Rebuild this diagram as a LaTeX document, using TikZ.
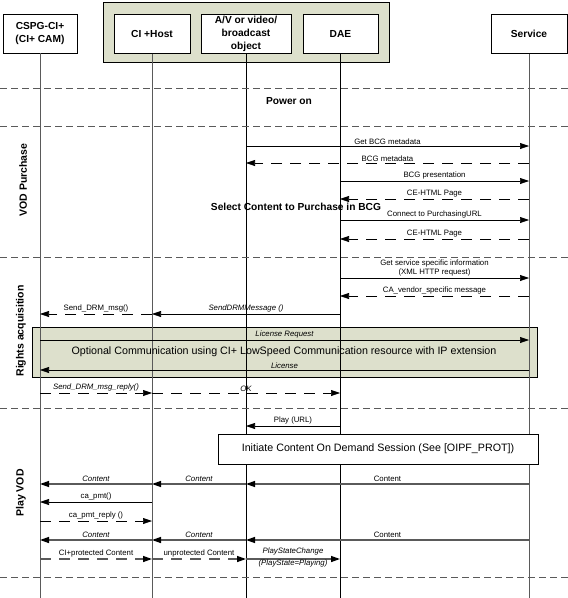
\documentclass[tikz,border=0pt]{standalone}
\usepackage{fontspec}
\setmainfont{Liberation Sans}
\usetikzlibrary{arrows.meta}
\definecolor{olivebg}{RGB}{221,224,204}
\definecolor{lifegray}{RGB}{90,90,90}
\tikzset{
  hdr/.style={draw=black, fill=white, minimum height=39pt, inner sep=0pt, align=center, font=\fontsize{10.2}{12.8}\selectfont\bfseries},
  life/.style={draw=lifegray, line width=0.6pt},
  sep/.style={draw=lifegray, line width=0.6pt, dash pattern=on 7pt off 4pt},
  tip/.style={-{Triangle[length=9pt,width=6pt,color=black,fill=black]}},
  msg/.style={tip, draw=black, line width=0.6pt},
  dmsg/.style={tip, draw=black, line width=0.6pt, dash pattern=on 11pt off 8pt},
  stream/.style={tip, draw=lifegray, line width=1.3pt},
  dstream/.style={tip, draw=lifegray, line width=1.3pt, dash pattern=on 11pt off 8pt},
  lbl/.style={font=\fontsize{7.8}{9.5}\selectfont, inner sep=0.5pt, align=center},
  ilbl/.style={font=\fontsize{7.8}{9.5}\selectfont\itshape, inner sep=0.5pt, align=center},
  big/.style={font=\fontsize{10.7}{12}\selectfont, inner sep=1pt},
  bigb/.style={font=\fontsize{10.2}{12}\selectfont\bfseries, inner sep=1pt},
  phase/.style={font=\fontsize{10.5}{12}\selectfont\bfseries, rotate=90, inner sep=1pt},
}
\begin{document}
\begin{tikzpicture}[x=1pt,y=-1pt]
\useasboundingbox (0,0) rectangle (568,598);
% group box
\node[draw=black, fill=olivebg, minimum width=286pt, minimum height=60pt, inner sep=0pt] (grp) at (246,32) {};
% headers
\node[hdr, minimum width=74pt] (cspg) at (40,33.5) {CSPG-CI+\\(CI+ CAM)};
\node[hdr, minimum width=76pt] (host) at (152,34) {CI +Host};
\node[hdr, minimum width=90pt] (av) at (246,34) {A/V or video/\\broadcast\\object};
\node[hdr, minimum width=75pt] (dae) at (340.5,34) {DAE};
\node[hdr, minimum width=76pt] (svc) at (529,34) {Service};
% lifeline ends
\coordinate (cspgE) at (40,598);
\coordinate (hostE) at (152,598);
\coordinate (avE) at (246,598);
\coordinate (daeE) at (340,598);
\coordinate (svcE) at (529,598);
% optional comm box (under lifelines)
\node[draw=black, fill=olivebg, minimum width=505pt, minimum height=50pt, inner sep=0pt] (opt) at (284.5,352) {};
% lifelines
\draw[life] (cspg.south -| cspgE) -- (cspgE);
\draw[life] (grp.south -| hostE) -- (hostE);
\draw[life] (host.south -| hostE) -- (grp.south -| hostE);
\draw[life, draw=black] (av.south -| avE) -- (avE);
\draw[life, draw=black] (dae.south -| daeE) -- (daeE);
\draw[life] (svc.south -| svcE) -- (svcE);
% separators
\coordinate (L) at (0,0); \coordinate (R) at (568,0);
\foreach \yy in {88,126,257,408,577} \draw[sep] (L |- 0,\yy) -- (R |- 0,\yy);
\node[bigb] (pwr) at (289,101) {Power on};
% VOD purchase
\draw[msg] (avE |- 0,146) -- node[lbl, above=1pt] (m1) {Get BCG metadata} (svcE |- 0,146);
\draw[dmsg] (svcE |- 0,163) -- node[lbl, above=1pt] (m2) {BCG metadata} (avE |- 0,163);
\draw[msg] (daeE |- 0,181) -- node[lbl, above=1pt] (m3) {BCG presentation} (svcE |- 0,181);
\draw[dmsg] (svcE |- 0,199) -- node[lbl, above=1pt] (m4) {CE-HTML Page} (daeE |- 0,199);
\node[bigb] (sel) at (296,207) {Select Content to Purchase in BCG};
\draw[msg] (daeE |- 0,220) -- node[lbl, above=1pt] (m5) {Connect to PurchasingURL} (svcE |- 0,220);
\draw[dmsg] (svcE |- 0,239) -- node[lbl, above=1pt] (m6) {CE-HTML Page} (daeE |- 0,239);
\node[phase] (ph1) at (23,180) {VOD Purchase};
% Rights acquisition
\draw[msg] (daeE |- 0,278) -- node[lbl, above=1pt] (m7) {Get service specific information\\(XML HTTP request)} (svcE |- 0,278);
\draw[dmsg] (svcE |- 0,296) -- node[lbl, above=1pt] (m8) {CA\_vendor\_specific message} (daeE |- 0,296);
\draw[msg] (daeE |- 0,314) -- node[ilbl, above=1pt] (m9) {SendDRMMessage ()} (hostE |- 0,314);
\draw[dmsg] (hostE |- 0,314) -- node[lbl, above=1pt] (m10) {Send\_DRM\_msg()} (cspgE |- 0,314);
\node[big] (opttxt) at (284,352) {Optional Communication using CI+ LowSpeed Communication resource with IP extension};
\draw[msg] (cspgE |- 0,340) -- node[ilbl, above=1pt] (m11) {License Request} (svcE |- 0,340);
\draw[msg] (svcE |- 0,370) -- node[ilbl, above=1pt] (m12) {License} (cspgE |- 0,370);
\draw[dmsg] (cspgE |- 0,393) -- node[ilbl, above=1pt] (m13) {Send\_DRM\_msg\_reply()} (hostE |- 0,393);
\draw[dmsg] (hostE |- 0,393) -- node[ilbl, above=1pt] (m14) {OK} (daeE |- 0,393);
\node[phase] (ph2) at (21,331) {Rights acquisition};
% Play VOD
\draw[msg] (daeE |- 0,426) -- node[lbl, above=1pt] (m15) {Play (URL)} (avE |- 0,426);
\node[draw=black, fill=white, minimum width=320pt, minimum height=30pt, inner sep=0pt, big] (ini) at (378,449) {Initiate Content On Demand Session (See [OIPF\_PROT])};
\draw[stream] (svcE |- 0,484) -- node[lbl, above=1pt] (c1) {Content} (avE |- 0,484);
\draw[stream] (avE |- 0,484) -- node[ilbl, above=1pt] (c2) {Content} (hostE |- 0,484);
\draw[stream] (hostE |- 0,484) -- node[ilbl, above=1pt] (c3) {Content} (cspgE |- 0,484);
\draw[msg] (hostE |- 0,502) -- node[lbl, above=1pt] (m16) {ca\_pmt()} (cspgE |- 0,502);
\draw[dmsg] (cspgE |- 0,521) -- node[lbl, above=1pt] (m17) {ca\_pmt\_reply ()} (hostE |- 0,521);
\draw[stream] (svcE |- 0,540) -- node[lbl, above=1pt] (c4) {Content} (avE |- 0,540);
\draw[stream] (avE |- 0,540) -- node[ilbl, above=1pt] (c5) {Content} (hostE |- 0,540);
\draw[stream] (hostE |- 0,540) -- node[ilbl, above=1pt] (c6) {Content} (cspgE |- 0,540);
\draw[dstream] (cspgE |- 0,559) -- node[lbl, above=1pt] (c7) {CI+protected Content} (hostE |- 0,559);
\draw[dstream] (hostE |- 0,559) -- node[lbl, above=1pt] (c8) {unprotected Content} (avE |- 0,559);
\draw[stream] (avE |- 0,559) -- (daeE |- 0,559);
\node[ilbl, font=\fontsize{7.8}{11.5}\selectfont\itshape] (m18) at (293,557.5) {PlayStateChange\\(PlayState=Playing)};
\node[phase] (ph3) at (21,493) {Play VOD};
\end{tikzpicture}
\end{document}
